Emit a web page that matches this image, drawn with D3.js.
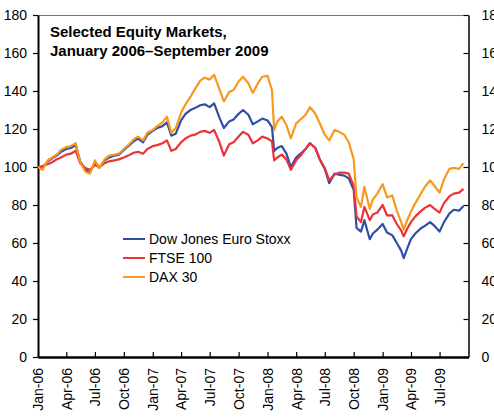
<!DOCTYPE html>
<html>
<head>
<meta charset="utf-8">
<script src="https://cdn.jsdelivr.net/npm/d3@7"></script>
<style>
  body { margin: 0; background: #fff; }
  svg { display: block; font-family: "Liberation Sans", Arial, sans-serif; }
</style>
</head>
<body>
<svg id="chart" width="494" height="418"></svg>
<script>
// readings taken about twice a month, index Jan 2006 = 100
const dates = [
  "2006-01-01","2006-01-15","2006-02-01","2006-02-15","2006-03-01","2006-03-15",
  "2006-04-01","2006-04-15","2006-05-01","2006-05-15","2006-06-01","2006-06-15",
  "2006-07-01","2006-07-15","2006-08-01","2006-08-15","2006-09-01","2006-09-15",
  "2006-10-01","2006-10-15","2006-11-01","2006-11-15","2006-12-01","2006-12-15",
  "2007-01-01","2007-01-15","2007-02-01","2007-02-15","2007-03-01","2007-03-15",
  "2007-04-01","2007-04-15","2007-05-01","2007-05-15","2007-06-01","2007-06-15",
  "2007-07-01","2007-07-15","2007-08-01","2007-08-15","2007-09-01","2007-09-15",
  "2007-10-01","2007-10-15","2007-11-01","2007-11-15","2007-12-01","2007-12-15",
  "2008-01-01","2008-01-15","2008-01-22","2008-02-01","2008-02-15","2008-03-01",
  "2008-03-15","2008-04-01","2008-04-15","2008-05-01","2008-05-15","2008-06-01",
  "2008-06-15","2008-07-01","2008-07-15","2008-08-01","2008-08-15","2008-09-01",
  "2008-09-15","2008-10-01","2008-10-10","2008-10-24","2008-11-04","2008-11-21",
  "2008-12-01","2008-12-15",
  "2009-01-01","2009-01-15","2009-02-01","2009-02-15","2009-03-01","2009-03-09",
  "2009-03-20","2009-04-01","2009-04-15","2009-05-01","2009-05-15","2009-06-01",
  "2009-06-15","2009-07-01","2009-07-15","2009-08-01","2009-08-15","2009-09-01",
  "2009-09-15"
];

const dowJones = [
  100, 99.5, 103, 104.5, 106, 108, 109.5, 110, 111.5, 103, 98.5, 97,
  102.5, 99.5, 103.5, 105, 106, 106.5, 109, 111, 113.5, 115, 113, 117,
  119, 120.5, 121.5, 123.5, 116.5, 117.5, 124.5, 128, 130, 131, 132.5, 133,
  131.5, 133.5, 126, 120.5, 124, 125, 128, 130, 127.5, 122.5, 124, 125.5,
  124.5, 121, 108.5, 110, 111, 107, 100, 105, 107, 109.5, 112.5, 110,
  104, 99, 91.5, 96.5, 96, 95.5, 94, 88, 68, 66, 72, 62, 65, 67,
  70, 65.5, 64, 60, 56, 52, 57, 62, 65, 67.5, 69, 71, 69,
  66, 71, 75.5, 77.5, 77, 79.5
];

const ftse = [
  100, 100.5, 101.5, 102.5, 104, 105, 106.5, 107, 108.5, 102, 99.5, 98.5,
  101, 100, 102, 103, 103.5, 104, 105, 106, 107.5, 108, 107, 109.5,
  111, 111.5, 112.5, 114, 108.5, 109.5, 113, 115, 116.5, 117, 118.5, 119,
  118, 119.5, 113, 106, 112, 113, 116, 118.5, 117, 112.5, 114, 116,
  115, 113.5, 103.5, 105, 106.5, 104, 98.5, 103.5, 106, 109.5, 112.5, 110,
  104, 99.5, 93, 96, 97, 97, 96.5, 90, 74, 71, 79, 72, 75, 76,
  80, 74.5, 74.5, 70, 66.5, 63.5, 67.5, 71, 74, 76.5, 78.5, 80, 78,
  76, 81, 84.5, 86, 86.5, 88.5
];

const dax = [
  100, 98.5, 103.5, 105, 106.5, 109, 110.5, 111, 112.5, 102.5, 97.5, 96.5,
  103.5, 99.5, 104, 106, 106.5, 107, 109.5, 111.5, 114.5, 116, 114, 118,
  119.5, 121.5, 123.5, 126.5, 118, 120.5, 128.5, 133, 137, 141, 145.5, 147,
  146, 148.5, 141, 134.5, 139.5, 140.5, 145, 147.5, 144, 139, 144, 147.5,
  148, 140.5, 119.5, 124, 126.5, 122, 115, 123, 125, 127.5, 131.5, 128,
  123, 117, 114, 119.5, 118.5, 117, 113, 104, 84, 79, 89.5, 78, 83, 86,
  91, 84, 85, 77, 71, 67, 72, 76.5, 81, 85.5, 89.5, 93, 90,
  86.5, 93.5, 99, 99.5, 99, 102
];

const seriesNames = ["Dow Jones Euro Stoxx", "FTSE 100", "DAX 30"];
const seriesColors = ["#2f4ea6", "#ec3237", "#f8981d"];
const yTicks = [0, 20, 40, 60, 80, 100, 120, 140, 160, 180];
const titleLines = ["Selected Equity Markets,", "January 2006\u2013September 2009"];

const svg = d3.select("#chart");
const plotLeft = 38, plotRight = 468.5, plotTop = 15, plotBottom = 357;

const parse = d3.timeParse("%Y-%m-%d");
const x = d3.scaleTime()
  .domain([new Date(2006, 0, 1), new Date(2009, 9, 1)])
  .range([plotLeft, plotRight]);
const y = d3.scaleLinear().domain([0, 180]).range([plotBottom, plotTop]);

// frame top (thin grey)
svg.append("line")
  .attr("x1", plotLeft).attr("x2", plotRight)
  .attr("y1", plotTop + 0.5).attr("y2", plotTop + 0.5)
  .attr("stroke", "#777").attr("stroke-width", 1);

// left axis
const yLeft = svg.append("g")
  .attr("transform", `translate(${plotLeft},0)`)
  .call(d3.axisLeft(y).tickValues(yTicks).tickSize(5).tickPadding(6).tickSizeOuter(0));

// right axis (cut by the window edge, as in the source)
const yRight = svg.append("g")
  .attr("transform", `translate(${plotRight},0)`)
  .call(d3.axisRight(y).tickValues(yTicks).tickSize(-5).tickPadding(13).tickSizeOuter(0));

// bottom axis
const xTicks = d3.timeMonth.every(3).range(new Date(2006, 0, 1), new Date(2009, 9, 1));
const xAxis = svg.append("g")
  .attr("transform", `translate(0,${plotBottom})`)
  .call(d3.axisBottom(x).tickValues(xTicks).tickSize(-5).tickSizeOuter(0)
    .tickFormat(d3.timeFormat("%b-%y")));

xAxis.selectAll("text")
  .attr("transform", "rotate(-90)")
  .attr("text-anchor", "end")
  .attr("x", -11)
  .attr("y", 0)
  .attr("dy", "0.35em");

[yLeft, yRight, xAxis].forEach((g) => {
  g.selectAll("text").attr("font-size", 14).attr("fill", "#000")
    .attr("font-family", "Liberation Sans, Arial, sans-serif");
  g.selectAll(".tick line").attr("stroke", "#000").attr("stroke-width", 1.2);
});
yLeft.select(".domain").attr("stroke", "#000").attr("stroke-width", 2);
yRight.select(".domain").attr("stroke", "#000").attr("stroke-width", 1.5);
xAxis.select(".domain").attr("stroke", "#000").attr("stroke-width", 2.5);

// lines
const parsedDates = dates.map(parse);
const seriesData = [dowJones, ftse, dax];
const line = d3.line()
  .x((d, i) => x(parsedDates[i]))
  .y((d) => y(d));

svg.append("g").attr("class", "lines")
  .selectAll("path")
  .data(seriesData)
  .join("path")
  .attr("fill", "none")
  .attr("stroke", (d, i) => seriesColors[i])
  .attr("stroke-width", 2.2)
  .attr("stroke-linejoin", "round")
  .attr("d", line);

// title
svg.append("g")
  .selectAll("text")
  .data(titleLines)
  .join("text")
  .attr("x", 50)
  .attr("y", (d, i) => 37 + i * 19)
  .attr("font-size", 15)
  .attr("font-weight", "bold")
  .text((d) => d);

// legend
const legend = svg.append("g").attr("transform", "translate(123,239)");
const rows = legend.selectAll("g")
  .data(seriesNames)
  .join("g")
  .attr("transform", (d, i) => `translate(0,${i * 19})`);
rows.append("line")
  .attr("x1", 0).attr("x2", 22)
  .attr("stroke", (d, i) => seriesColors[i])
  .attr("stroke-width", 2);
rows.append("text")
  .attr("x", 26)
  .attr("dy", "0.35em")
  .attr("font-size", 14)
  .text((d) => d);
</script>
</body>
</html>
